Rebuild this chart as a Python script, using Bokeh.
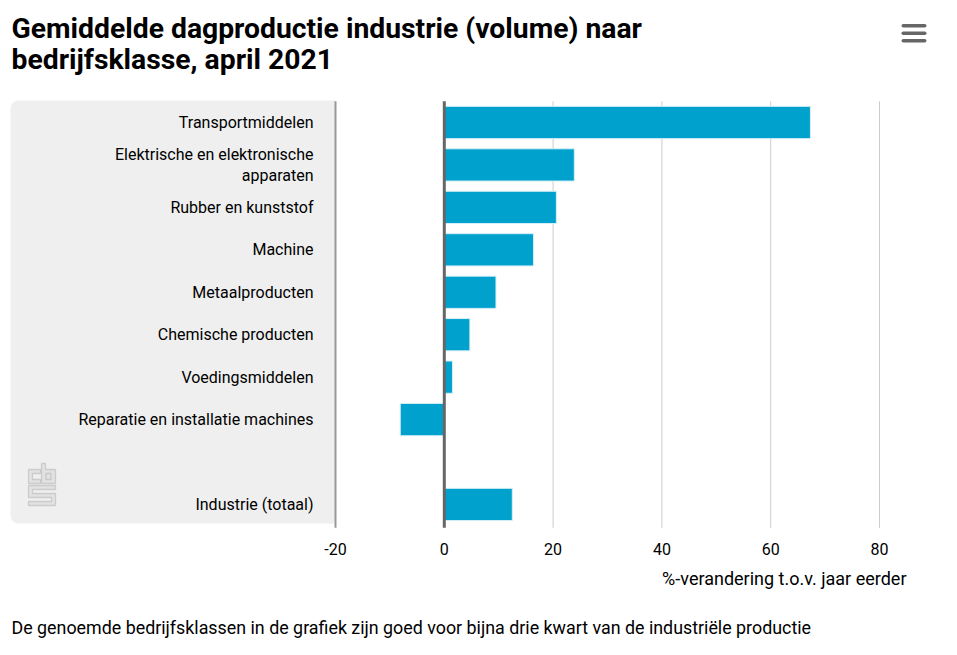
from bokeh.plotting import figure
from bokeh.models import (Range1d, Label, BoxAnnotation, PolyAnnotation,
                          ColumnDataSource)
from bokeh.core.properties import value
from bokeh.embed import file_html
from bokeh.resources import INLINE

# ---- data ----
categories = [
    "Transportmiddelen",
    "Elektrische en elektronische\napparaten",
    "Rubber en kunststof",
    "Machine",
    "Metaalproducten",
    "Chemische producten",
    "Voedingsmiddelen",
    "Reparatie en installatie machines",
    "",
    "Industrie (totaal)",
]
values = [67.3, 23.9, 20.6, 16.4, 9.5, 4.7, 1.5, -8.1, None, 12.5]
x_ticks = [-20, 0, 20, 40, 60, 80]
x_tick_labels = ["-20", "0", "20", "40", "60", "80"]
title_lines = ["Gemiddelde dagproductie industrie (volume) naar",
               "bedrijfsklasse, april 2021"]
x_label = "%-verandering t.o.v. jaar eerder"
footnote = ("De genoemde bedrijfsklassen in de grafiek zijn goed voor bijna "
            "drie kwart van de industriële productie")

# ---- layout / style ----
W, H = 957, 655
FONT = "Roboto"
BAR = "#00A1CD"
PX_PER_UNIT = 5.44          # horizontal scale
X0_PAGE = 335               # page x of the -20 line
ROW_PX = 42.44              # row pitch
ROW0_PAGE = 122             # page y of first row centre

x_start = x_ticks[0] - X0_PAGE / PX_PER_UNIT
x_end = x_start + W / PX_PER_UNIT
y_top = -ROW0_PAGE / ROW_PX
y_bottom = y_top + H / ROW_PX

rows = list(range(len(categories)))
n = len(categories)

p = figure(width=W, height=H, output_backend="svg", toolbar_location=None,
           x_range=Range1d(x_start, x_end), y_range=Range1d(y_bottom, y_top),
           x_axis_location=None, y_axis_location=None,
           min_border=0, min_border_left=0, min_border_right=0,
           min_border_top=0, min_border_bottom=0)
p.outline_line_color = None
p.xgrid.visible = False
p.ygrid.visible = False
p.background_fill_color = "white"
p.border_fill_color = "white"

# grey panel behind category labels
p.add_layout(BoxAnnotation(left=10, right=X0_PAGE, top=H - 100, bottom=H - 523,
                           left_units="screen", right_units="screen",
                           top_units="screen", bottom_units="screen",
                           fill_color="#efefef", fill_alpha=1, line_color=None,
                           border_radius=(8, 0, 0, 8), level="underlay"))

# vertical grid lines
grid_top = -0.5
grid_bot = n - 0.5 + 0.05
p.segment(x0=x_ticks[2:], y0=grid_top, x1=x_ticks[2:], y1=grid_bot,
          line_color="#cccccc", line_width=1)
p.segment(x0=[x_ticks[0]], y0=grid_top, x1=[x_ticks[0]], y1=grid_bot,
          line_color="#999999", line_width=2)

# bars
bar_rows = [r for r, v in zip(rows, values) if v is not None]
bar_vals = [v for v in values if v is not None]
src = ColumnDataSource(dict(row=bar_rows, val=bar_vals))
p.hbar(y="row", left=0, right="val", height=0.76, source=src,
       fill_color=BAR, line_color="#d6eff7", line_width=1)

# zero line
p.segment(x0=[0], y0=grid_top, x1=[0], y1=grid_bot,
          line_color="#666666", line_width=3)

# category labels
p.text(x=[x_ticks[0]] * n, y=rows, text=categories, x_offset=-22,
       text_align="right", text_baseline="middle", text_font=value(FONT),
       text_font_size="16px", text_color="#000000", text_line_height=1.12)

# tick labels
p.text(x=x_ticks, y=[n - 0.5] * len(x_ticks), text=x_tick_labels, y_offset=23,
       text_align="center", text_baseline="middle", text_font=value(FONT),
       text_font_size="16px", text_color="#000000")


def lab(text, x, y, size, bold=False, align="left"):
    p.add_layout(Label(x=x, y=H - y, x_units="screen", y_units="screen", text=text,
                       text_font=FONT, text_font_size=size,
                       text_font_style="bold" if bold else "normal",
                       text_color="#000000", text_align=align,
                       text_baseline="alphabetic"))


lab(title_lines[0], 11, 28, "28.3px", bold=True)
lab(title_lines[1], 11, 59, "28.3px", bold=True)
lab(x_label, 906, 578, "18px", align="right")
lab(footnote, 11, 627, "17.85px")

# hamburger menu icon
for top in (23.5, 31, 38.5):
    p.add_layout(BoxAnnotation(left=901, right=926, top=H - top, bottom=H - top - 3.6,
                               left_units="screen", right_units="screen",
                               top_units="screen", bottom_units="screen",
                               fill_color="#666666", fill_alpha=1, line_color=None,
                               border_radius=2))


# CBS logo (outline approximation)
def logo(pts):
    xs = [28 + lx for lx, ly in pts]
    ys = [H - (463 + ly) for lx, ly in pts]
    p.add_layout(PolyAnnotation(xs=xs, ys=ys, xs_units="screen", ys_units="screen",
                                fill_color="#e2e2e2", fill_alpha=1,
                                line_color="#8a8a8a", line_width=1.3))


logo([(0, 6), (12, 6), (12, 10), (4, 10), (4, 16), (12, 16), (12, 20), (0, 20)])
logo([(13, 0), (17, 0), (17, 6), (27, 6), (27, 20), (13, 20)])
logo([(17.5, 10), (22.5, 10), (22.5, 16), (17.5, 16)])
logo([(0, 22), (27, 22), (27, 26), (4, 26), (4, 30), (27, 30), (27, 42), (0, 42),
      (0, 38), (23, 38), (23, 34), (0, 34)])

open("out.html", "w").write(file_html(p, INLINE))
